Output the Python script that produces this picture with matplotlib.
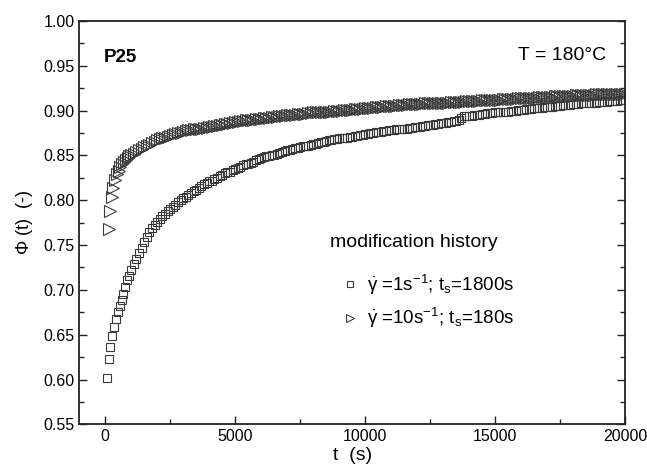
import matplotlib
matplotlib.use("Agg")
import matplotlib.pyplot as plt
from matplotlib.ticker import MultipleLocator

plt.rcParams['font.family'] = ['Liberation Sans', 'DejaVu Sans']
plt.rcParams['mathtext.fontset'] = 'custom'
plt.rcParams['mathtext.rm'] = 'Liberation Sans'
plt.rcParams['mathtext.it'] = 'Liberation Sans'
plt.rcParams['mathtext.bf'] = 'Liberation Sans:bold'

# ---- data ----
# series 1: shear rate 1 s^-1, ts = 1800 s (squares)
t_sq_early = [65, 130, 192, 270, 335, 410, 490, 565, 630, 690, 770, 846, 920]
phi_sq_early = [0.602, 0.623, 0.636, 0.648, 0.659, 0.667, 0.675, 0.682, 0.689,
                0.695, 0.703, 0.711, 0.716]
# measurement times sampled every 100 s from 1000 s on
t_grid = list(range(1000, 20001, 100))
phi_sq_late = [
    0.722, 0.729, 0.735, 0.741, 0.747, 0.753, 0.759, 0.765, 0.769, 0.772,
    0.776, 0.779, 0.782, 0.785, 0.788, 0.790, 0.793, 0.795, 0.798, 0.800,
    0.802, 0.804, 0.806, 0.808, 0.810, 0.812, 0.814, 0.816, 0.818, 0.819,
    0.821, 0.822, 0.824, 0.825, 0.827, 0.828, 0.830, 0.831, 0.832, 0.834,
    0.835, 0.836, 0.837, 0.839, 0.840, 0.841, 0.842, 0.843, 0.845, 0.846,
    0.847, 0.848, 0.849, 0.849, 0.850, 0.851, 0.852, 0.853, 0.854, 0.855,
    0.856, 0.856, 0.857, 0.858, 0.858, 0.859, 0.860, 0.861, 0.861, 0.862,
    0.863, 0.863, 0.864, 0.865, 0.865, 0.866, 0.867, 0.867, 0.868, 0.868,
    0.869, 0.869, 0.870, 0.870, 0.871, 0.871, 0.872, 0.872, 0.873, 0.873,
    0.874, 0.874, 0.875, 0.875, 0.876, 0.876, 0.876, 0.877, 0.877, 0.878,
    0.878, 0.878, 0.879, 0.879, 0.880, 0.880, 0.880, 0.881, 0.881, 0.882,
    0.882, 0.882, 0.883, 0.883, 0.884, 0.884, 0.884, 0.885, 0.885, 0.886,
    0.886, 0.886, 0.887, 0.887, 0.888, 0.888, 0.890, 0.892, 0.894, 0.894,
    0.894, 0.894, 0.895, 0.895, 0.895, 0.896, 0.896, 0.897, 0.897, 0.897,
    0.898, 0.898, 0.898, 0.899, 0.899, 0.899, 0.900, 0.900, 0.900, 0.901,
    0.901, 0.901, 0.902, 0.902, 0.902, 0.903, 0.903, 0.903, 0.903, 0.904,
    0.904, 0.904, 0.904, 0.905, 0.905, 0.905, 0.906, 0.906, 0.906, 0.906,
    0.907, 0.907, 0.907, 0.908, 0.908, 0.908, 0.909, 0.909, 0.909, 0.909,
    0.910, 0.910, 0.910, 0.910, 0.911, 0.911, 0.911, 0.911, 0.912, 0.912,
    0.912]

# series 2: shear rate 10 s^-1, ts = 180 s (triangles)
t_tr_early = [130, 192, 258, 308, 373, 440, 510, 580, 650, 720, 790, 860, 930]
phi_tr_early = [0.768, 0.788, 0.804, 0.814, 0.823, 0.829, 0.833, 0.837, 0.840,
                0.843, 0.845, 0.847, 0.849]
phi_tr_late = [
    0.850, 0.852, 0.854, 0.856, 0.857, 0.859, 0.861, 0.862, 0.864, 0.865,
    0.867, 0.868, 0.869, 0.870, 0.871, 0.872, 0.873, 0.874, 0.875, 0.875,
    0.876, 0.877, 0.878, 0.878, 0.879, 0.879, 0.880, 0.880, 0.881, 0.881,
    0.882, 0.882, 0.883, 0.883, 0.884, 0.884, 0.885, 0.885, 0.886, 0.886,
    0.887, 0.887, 0.888, 0.888, 0.889, 0.889, 0.890, 0.890, 0.891, 0.891,
    0.891, 0.892, 0.892, 0.892, 0.893, 0.893, 0.893, 0.894, 0.894, 0.894,
    0.895, 0.895, 0.895, 0.895, 0.896, 0.896, 0.896, 0.896, 0.897, 0.897,
    0.898, 0.898, 0.898, 0.898, 0.899, 0.899, 0.899, 0.899, 0.900, 0.900,
    0.900, 0.900, 0.901, 0.901, 0.901, 0.901, 0.902, 0.902, 0.902, 0.902,
    0.903, 0.903, 0.903, 0.903, 0.904, 0.904, 0.904, 0.904, 0.905, 0.905,
    0.905, 0.905, 0.905, 0.906, 0.906, 0.906, 0.906, 0.907, 0.907, 0.907,
    0.907, 0.907, 0.907, 0.908, 0.908, 0.908, 0.908, 0.908, 0.909, 0.909,
    0.909, 0.909, 0.909, 0.910, 0.910, 0.910, 0.910, 0.910, 0.910, 0.911,
    0.911, 0.911, 0.911, 0.911, 0.911, 0.912, 0.912, 0.912, 0.912, 0.912,
    0.912, 0.912, 0.912, 0.913, 0.913, 0.913, 0.913, 0.913, 0.913, 0.914,
    0.914, 0.914, 0.914, 0.914, 0.914, 0.914, 0.914, 0.915, 0.915, 0.915,
    0.915, 0.915, 0.915, 0.916, 0.916, 0.916, 0.916, 0.916, 0.916, 0.916,
    0.916, 0.917, 0.917, 0.917, 0.917, 0.917, 0.917, 0.917, 0.917, 0.918,
    0.918, 0.918, 0.918, 0.918, 0.918, 0.918, 0.918, 0.919, 0.919, 0.919,
    0.919]

x_ticks = [0, 5000, 10000, 15000, 20000]
y_ticks = [0.55, 0.60, 0.65, 0.70, 0.75, 0.80, 0.85, 0.90, 0.95, 1.00]

label_sq = r"$\dot{\gamma}$ =1s$^{-1}$; t$_{\rm s}$=1800s"
label_tr = r"$\dot{\gamma}$ =10s$^{-1}$; t$_{\rm s}$=180s"

# ---- figure ----
fig = plt.figure(figsize=(6.47, 4.72), dpi=100)
ax = fig.add_axes([0.1226, 0.101, 0.8434, 0.8545])

ec = '#3a3a3a'
h1, = ax.plot(t_sq_early + t_grid, phi_sq_early + phi_sq_late, ls='none',
              marker='s', ms=6.4, mfc='none', mec=ec, mew=0.8, label=label_sq)
h2, = ax.plot(t_tr_early + t_grid, phi_tr_early + phi_tr_late, ls='none',
              marker='>', ms=8.0, mfc='none', mec=ec, mew=0.8, label=label_tr)

ax.set_xlim(-1000, 20000)
ax.set_ylim(0.55, 1.00)
ax.set_xticks(x_ticks)
ax.set_xticklabels([str(v) for v in x_ticks])
ax.set_yticks(y_ticks)
ax.set_yticklabels([f"{v:.2f}" for v in y_ticks])
ax.xaxis.set_minor_locator(MultipleLocator(2500))
ax.yaxis.set_minor_locator(MultipleLocator(0.025))
ax.tick_params(which='both', direction='in', top=False, right=True,
               labelsize=11.5, width=1.0, color='#222222')
ax.tick_params(which='major', length=6)
ax.tick_params(which='minor', length=3.5)
for s in ax.spines.values():
    s.set_linewidth(1.3)
    s.set_color('#222222')

ax.set_xlabel("t  (s)", fontsize=14, labelpad=2)
ax.set_ylabel(r"$\Phi$ (t)  (-)", fontsize=13, labelpad=6)

ax.text(0.045, 0.91, "P25", transform=ax.transAxes, fontsize=13.5,
        fontweight='bold', va='center', ha='left')
ax.text(0.965, 0.915, "T = 180°C", transform=ax.transAxes, fontsize=14,
        va='center', ha='right')

ax.text(0.459, 0.452, "modification history", transform=ax.transAxes,
        fontsize=14, va='center', ha='left')
leg = ax.legend(handles=[h1, h2], loc='upper left',
                bbox_to_anchor=(0.445, 0.418),
                frameon=False, fontsize=13.5,
                handletextpad=0.3, handlelength=1.2, labelspacing=0.5,
                markerscale=0.75)

fig.savefig("out.png", dpi=100)
